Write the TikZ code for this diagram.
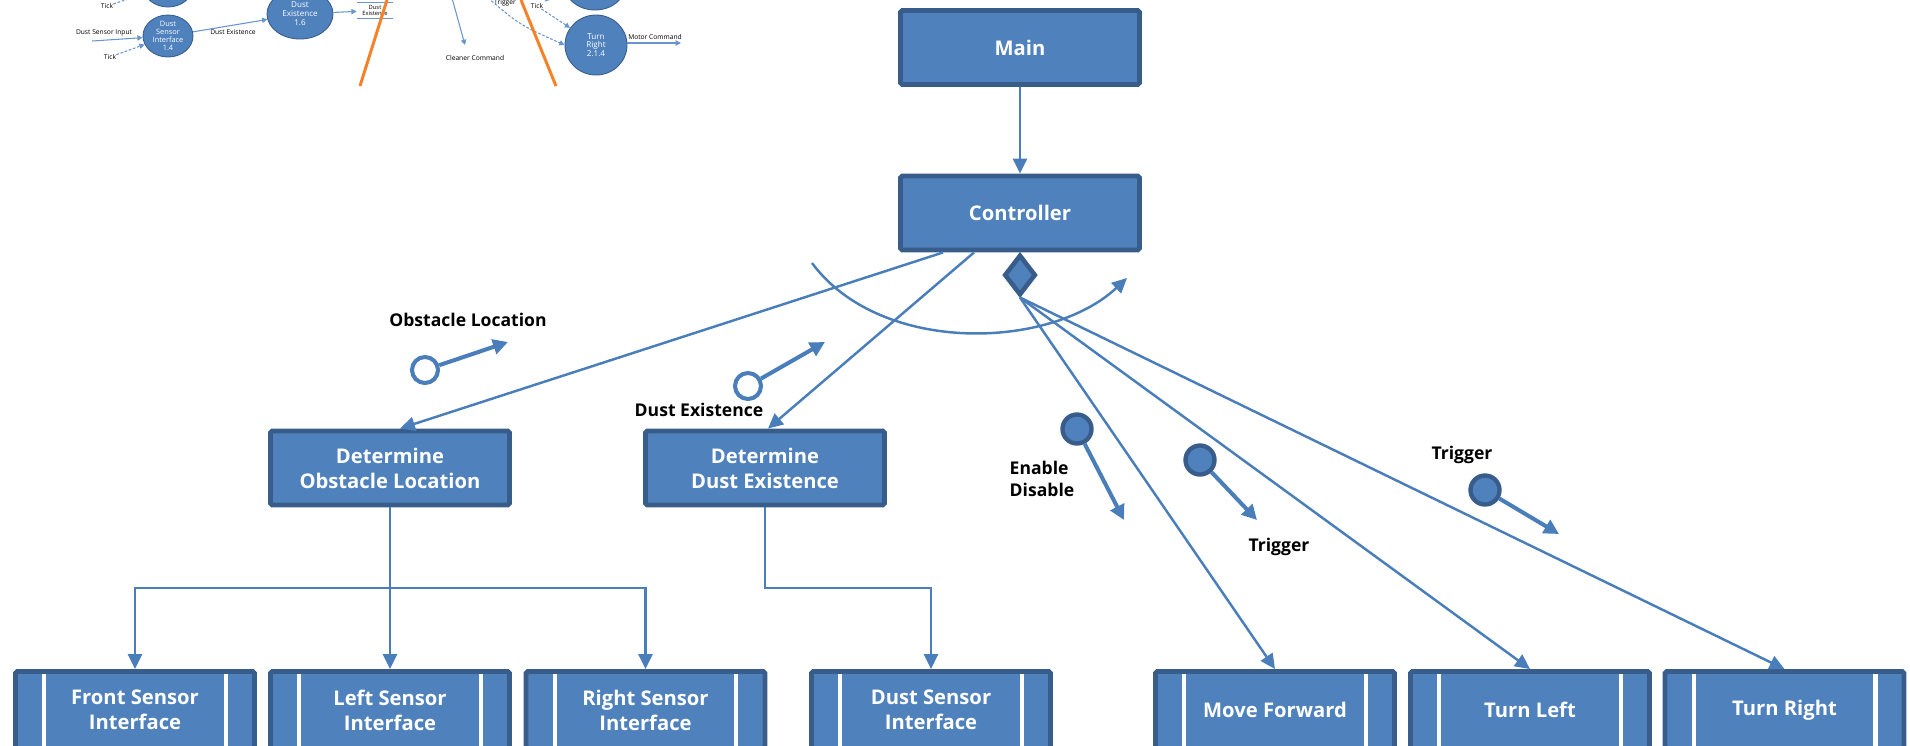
\documentclass[tikz,border=0pt]{standalone}
\usepackage{fontspec}
\setmainfont{Open Sans}
\usetikzlibrary{arrows.meta,positioning,shapes.geometric}

\definecolor{boxfill}{RGB}{79,129,189}
\definecolor{boxline}{RGB}{56,93,138}
\definecolor{flow}{RGB}{74,126,187}
\definecolor{thinflow}{RGB}{105,148,204}
\definecolor{cutline}{RGB}{245,130,40}

\begin{document}
\begin{tikzpicture}[x=0.2mm,y=-0.2mm,
  mod/.style={rectangle,draw=boxline,fill=boxfill,line width=2.8pt,rounded corners=1pt,
    minimum width=47.8mm,minimum height=14.8mm,inner sep=0pt,text=white,align=center,
    font=\fontsize{11.5}{14.2}\selectfont\bfseries},
  lib/.style={mod,minimum height=15.4mm},
  dia/.style={diamond,draw=boxline,fill=boxfill,line width=2.6pt,inner sep=0pt,
    minimum width=6.3mm,minimum height=8.1mm},
  call/.style={draw=flow,line width=1.4pt,-{Triangle[length=8.5pt,width=8pt]}},
  couple/.style={draw=flow,line width=2.3pt,-{Triangle[length=8.5pt,width=8.5pt]}},
  datac/.style={circle,draw=flow,fill=white,line width=2.3pt,inner sep=0pt,minimum size=5.2mm},
  ctrlc/.style={circle,draw=boxline,fill=boxfill,line width=2.5pt,inner sep=0pt,minimum size=5.8mm},
  lbl/.style={align=left,inner sep=0pt,font=\fontsize{10}{12.5}\selectfont\bfseries},
  % old bubble chart, cut at the top
  bub/.style={ellipse,draw=boxline,fill=boxfill,line width=0.5pt,inner sep=0pt,text=white,
    align=center,font=\fontsize{4.2}{4.6}\selectfont},
  tiny/.style={inner sep=0pt,align=center,font=\fontsize{3.8}{4}\selectfont},
  dflow/.style={draw=thinflow,line width=0.6pt,-{Triangle[length=3pt,width=3pt]}},
  tflow/.style={dflow,dash pattern=on 1.5pt off 1pt},
  cutter/.style={draw=cutline,line width=1.7pt}]

  \useasboundingbox (0,0) rectangle (1910,745);

  % fragment of the bubble chart
  \node[bub,minimum width=10mm,minimum height=8.4mm] (b0) at (168,-14) {};
  \node[bub,minimum width=10mm,minimum height=8.4mm] (dsb) at (168,36) {Dust\\Sensor\\Interface\\1.4};
  \node[bub,minimum width=13.2mm,minimum height=10mm,font=\fontsize{4.6}{5.1}\selectfont] (deb) at (300,14) {Dust\\Existence\\1.6};
  \node[bub,minimum width=12.4mm,minimum height=10.4mm] (b1) at (595,-16) {};
  \node[bub,minimum width=12.4mm,minimum height=12mm,font=\fontsize{4.6}{4.8}\selectfont] (trb) at (596,45) {Turn\\Right\\2.1.4};
  \node[tiny,minimum width=7.2mm,minimum height=3mm,font=\fontsize{3.3}{3.6}\selectfont] (store) at (375,10.5) {Dust\\Existence};
  \draw[draw=thinflow,line width=0.6pt] (store.north west) -- (store.north east) (store.south west) -- (store.south east);

  \node[tiny] (tick0) at (107,6) {Tick};
  \node[tiny] (dsin) at (104,33) {Dust Sensor Input};
  \node[tiny] (tick1) at (110,57) {Tick};
  \node[tiny] (dexl) at (233,32) {Dust Existence};
  \node[tiny] (ccl) at (475,58) {Cleaner Command};
  \node[tiny] (trg0) at (505,3) {Trigger};
  \node[tiny] (tick2) at (537,6) {Tick};
  \node[tiny] (mcl) at (655,37) {Motor Command};
  \coordinate (dsinA) at (92,41);
  \coordinate (ccA) at (452,-2);
  \coordinate (ccB) at (465,45);
  \coordinate (trgA) at (488,-2);
  \coordinate (b1A) at (545,1);
  \coordinate (mcB) at (681,43);

  \draw[tflow] (tick0) -- (b0);
  \draw[dflow] (dsinA) -- (dsb);
  \draw[tflow] (tick1) -- (dsb);
  \draw[dflow] (dsb) -- (deb);
  \draw[dflow] (deb) -- (store);
  \draw[dflow] (ccA) -- (ccB);
  \draw[tflow] (trgA) .. controls (520,25) .. (trb.west);
  \draw[tflow] (tick2) -- (trb);
  \draw[dflow] (b1A) -- (b1);
  \draw[dflow] (trb.east |- mcB) -- (mcB);
  \draw[cutter] (387,0) -- (360,86);
  \draw[cutter] (521,0) -- (556,86);

  % structure chart
  \node[mod] (main) at (1020,47.5) {Main};
  \node[mod] (ctrl) at (1020,213) {Controller};
  \node[dia,below=0pt of ctrl] (agg) {};

  \node[mod] (detobs) at (390,468) {Determine\\Obstacle Location};
  \node[mod] (detdust) at (765,468) {Determine\\Dust Existence};

  \node[lib] (fsi) at (135,710) {Front Sensor\\Interface};
  \node[lib] (lsi) at (390,710) {Left Sensor\\Interface};
  \node[lib] (rsi) at (645.5,710) {Right Sensor\\Interface};
  \node[lib] (dsi) at (931,710) {Dust Sensor\\Interface};
  \node[lib] (mf) at (1275,710) {Move Forward};
  \node[lib] (tl) at (1530,710) {Turn Left};
  \node[lib] (tr) at (1784.5,710) {Turn Right};

  \foreach \n in {fsi,lsi,rsi,dsi,mf,tl,tr} {
    \draw[white,line width=2.3pt] ([xshift=6.2mm,yshift=-1mm]\n.north west) -- ([xshift=6.2mm]\n.south west);
    \draw[white,line width=2.3pt] ([xshift=-6.2mm,yshift=-1mm]\n.north east) -- ([xshift=-6.2mm]\n.south east);
  }

  \coordinate (obus) at (390,588);
  \coordinate (dbus) at (765,588);

  \draw[call] (main) -- (ctrl);
  \draw[call] ([xshift=-15.4mm]ctrl.south) -- ([xshift=2mm]detobs.north);
  \draw[call] ([xshift=-9.2mm]ctrl.south) -- ([xshift=0.6mm]detdust.north);
  \draw[call] (agg.south) -- (mf.north);
  \draw[call] (agg.south) -- (tl.north);
  \draw[call] (agg.south) -- (tr.north);
  \draw[call] (detobs.south) -- (obus) -| (fsi.north);
  \draw[call] (obus) -- (lsi.north);
  \draw[call] (obus) -| (rsi.north);
  \draw[call] (detdust.south) -- (dbus) -| (dsi.north);

  % loop over the calls
  \coordinate (loopA) at (812,263);
  \coordinate (loopB) at (1127,278);
  \draw[call] (loopA) .. controls (880,355) and (1050,350) .. (loopB);

  % couples
  \node[datac] (olc) at (425,370) {};
  \coordinate (olt) at (508,342);
  \node[lbl] (oll) at (468,320) {Obstacle Location};
  \draw[couple] (olc) -- (olt);

  \node[datac] (dec) at (748,386) {};
  \coordinate (det) at (825,342);
  \node[lbl] (del) at (699,410) {Dust Existence};
  \draw[couple] (dec) -- (det);

  \node[ctrlc] (edc) at (1077,429) {};
  \coordinate (edt) at (1124,520);
  \node[lbl] (edl) at (1042,479) {Enable\\Disable};
  \draw[couple] (edc) -- (edt);

  \node[ctrlc] (t1c) at (1200,460) {};
  \coordinate (t1t) at (1257,520);
  \node[lbl] (t1l) at (1279,547) {Trigger};
  \draw[couple] (t1c) -- (t1t);

  \node[ctrlc] (t2c) at (1485,490) {};
  \coordinate (t2t) at (1559,534);
  \node[lbl] (t2l) at (1462,455) {Trigger};
  \draw[couple] (t2c) -- (t2t);
\end{tikzpicture}
\end{document}
